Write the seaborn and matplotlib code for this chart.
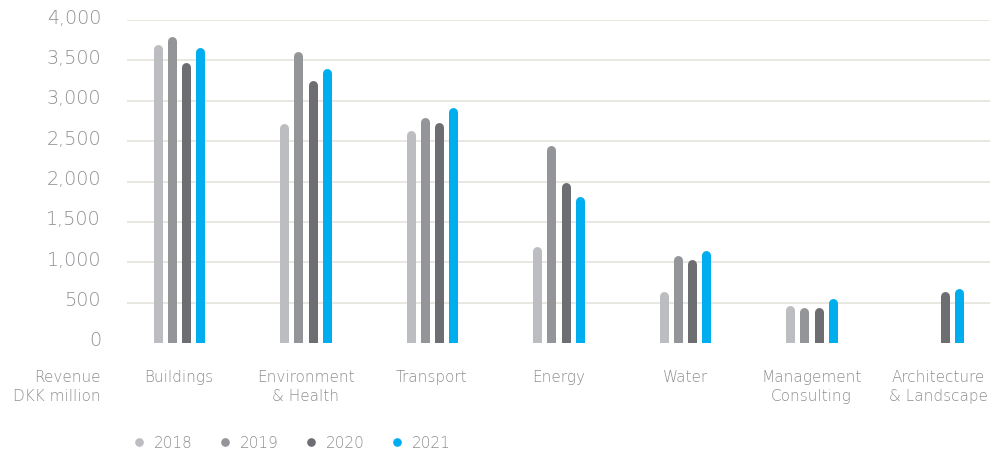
import matplotlib
matplotlib.use("Agg")
import matplotlib.pyplot as plt
import matplotlib.transforms as mtransforms
from matplotlib.lines import Line2D
import numpy as np
import pandas as pd
import seaborn as sns

# Revenue by business segment, DKK million
segments = [
    "Buildings",
    "Environment\n& Health",
    "Transport",
    "Energy",
    "Water",
    "Management\nConsulting",
    "Architecture\n& Landscape",
]
years = ["2018", "2019", "2020", "2021"]
rev_2018 = [3700, 2720, 2630, 1200, 640, 460, np.nan]
rev_2019 = [3800, 3610, 2790, 2440, 1080, 440, np.nan]
rev_2020 = [3470, 3250, 2730, 1990, 1040, 440, 640]
rev_2021 = [3660, 3400, 2920, 1820, 1150, 550, 680]
y_ticks = [0, 500, 1000, 1500, 2000, 2500, 3000, 3500, 4000]
y_tick_labels = ["0", "500", "1,000", "1,500", "2,000", "2,500", "3,000", "3,500", "4,000"]

palette = ["#bcbdc0", "#939598", "#6d6e71", "#00aeef"]
text_color = "#8c8e91"
grid_color = "#e6e5dd"

df = pd.DataFrame({
    "segment": np.repeat(segments, len(years)),
    "year": years * len(segments),
    "revenue": np.column_stack([rev_2018, rev_2019, rev_2020, rev_2021]).ravel(),
})

sns.set_theme(style="white")
plt.rcParams["font.family"] = ["DejaVu Sans"]
plt.rcParams["font.weight"] = "light"

W, H, DPI = 992, 456, 100
fig = plt.figure(figsize=(W / DPI, H / DPI), dpi=DPI)
ax = fig.add_axes([127 / W, 1 - 344 / H, (990 - 127) / W, (344 - 21) / H])

sns.barplot(
    data=df, x="segment", y="revenue", hue="year", hue_order=years,
    order=segments, palette=palette, width=0.452, dodge=True,
    legend=False, errorbar=None, saturation=1, ax=ax,
)

ax.set_xlim(-0.411, 6.411)
ax.set_ylim(0, 4000)
ax.set_yticks(y_ticks)
ax.set_yticklabels(y_tick_labels)
ax.set_xlabel("")
ax.set_ylabel("")
for s in ax.spines.values():
    s.set_visible(False)

ax.grid(axis="y", color=grid_color, linewidth=1.3)
ax.grid(axis="x", visible=False)
ax.set_axisbelow(True)
ax.yaxis.get_gridlines()[0].set_visible(False)

ax.tick_params(axis="y", length=0, pad=18.7, labelsize=13.8, labelcolor=text_color)
ax.tick_params(axis="x", length=0, pad=18.5, labelsize=11, labelcolor=text_color)
for lbl in ax.get_xticklabels():
    lbl.set_linespacing(1.32)

# lift the value labels a little above their gridlines
lift = mtransforms.ScaledTranslation(0, 3.6 / 72, fig.dpi_scale_trans)
for tick in ax.yaxis.get_major_ticks():
    tick.label1.set_transform(tick.label1.get_transform() + lift)

# redraw each seaborn bar as a slim stick with a rounded top
bar_px = 9.0
ax_px_h = ax.get_window_extent().height
r_data = (bar_px / 2) * (4000 / ax_px_h)
for p in list(ax.patches):
    h = p.get_height()
    p.set_visible(False)
    if not np.isfinite(h) or h <= 0:
        continue
    cx = p.get_x() + p.get_width() / 2
    ax.add_line(Line2D(
        [cx, cx], [0, h - r_data], color=p.get_facecolor(),
        linewidth=bar_px * 72 / DPI, solid_capstyle="round", zorder=2,
    ))

ax.annotate(
    "Revenue\nDKK million", xy=(0, 0), xycoords="axes fraction",
    xytext=(-18.7, -18.5), textcoords="offset points", ha="right", va="top",
    fontsize=11, color=text_color, linespacing=1.32,
)

handles = [
    Line2D([], [], linestyle="none", marker="o", markersize=5.2,
           markerfacecolor=c, markeredgecolor=c)
    for c in palette
]
fig.legend(
    handles, years, ncol=4, loc="center left",
    bbox_to_anchor=(131.4 / W, 1 - 444 / H), frameon=False,
    fontsize=11, labelcolor=text_color, handlelength=1.0,
    handletextpad=0.48, columnspacing=1.6, borderpad=0, borderaxespad=0,
)

fig.savefig("out.png", dpi=DPI, facecolor="white")
